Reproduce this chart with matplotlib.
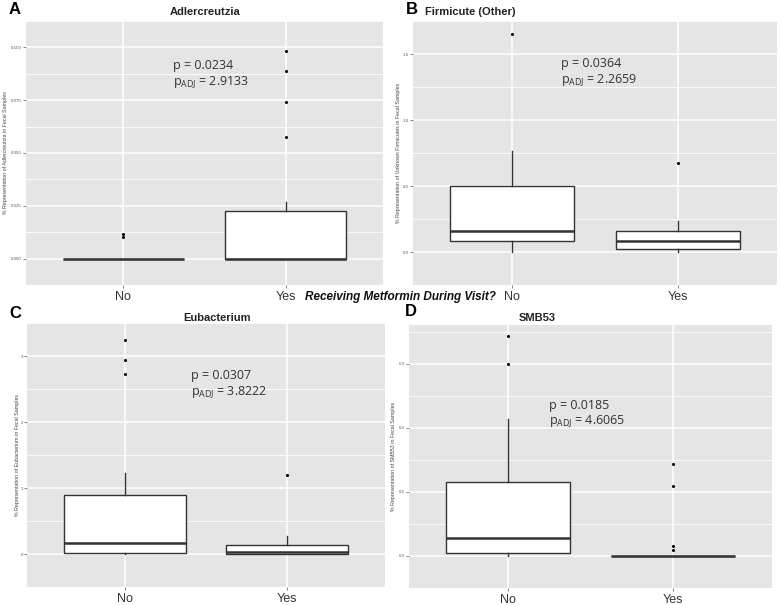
import numpy as np
import matplotlib.pyplot as plt

groups = ["No", "Yes"]

# box stats: [low whisker, Q1, median, Q3, high whisker]
adler_no = [0.0, 0.0, 0.0, 0.0, 0.0]
adler_yes = [0.0, 0.0, 0.0, 0.0226, 0.0267]
adler_out_no = [0.0117, 0.0100]
adler_out_yes = [0.0984, 0.0889, 0.0741, 0.0576]

firm_no = [0.0, 0.084, 0.162, 0.50, 0.767]
firm_yes = [0.0, 0.02, 0.082, 0.157, 0.233]
firm_out_no = [1.65]
firm_out_yes = [0.676]

eubac_no = [0.0, 0.01, 0.17, 0.90, 1.22]
eubac_yes = [0.0, 0.0, 0.03, 0.14, 0.27]
eubac_out_no = [3.235, 2.94, 2.73]
eubac_out_yes = [1.19]

smb_no = [0.0, 0.0053, 0.0276, 0.1147, 0.213]
smb_yes = [0.0, 0.0, 0.0, 0.0, 0.0]
smb_out_no = [0.343, 0.2996]
smb_out_yes = [0.143, 0.109, 0.0157, 0.010]

p_values = ["0.0234", "0.0364", "0.0307", "0.0185"]
p_adj = ["2.9133", "2.2659", "3.8222", "4.6065"]

W, H = 780, 605
fig = plt.figure(figsize=(7.8, 6.05), dpi=100)
plt.rcParams['font.family'] = ['Liberation Sans', 'DejaVu Sans']


def px(x, y):
    return x / W, 1 - y / H


def panel(box_px, st_no, st_yes, out_no, out_yes, yticks, ylabels, ylabel,
          ylabel_x, ptext_xy, pv, padj):
    l, t, r, b = box_px
    ax = fig.add_axes([l / W, 1 - b / H, (r - l) / W, (b - t) / H])
    stats = []
    for s, o in [(st_no, out_no), (st_yes, out_yes)]:
        stats.append(dict(whislo=s[0], q1=s[1], med=s[2], q3=s[3],
                          whishi=s[4], fliers=o))
    ax.bxp(stats, positions=[1, 2], widths=0.75, patch_artist=True,
           showcaps=False,
           boxprops=dict(facecolor='white', edgecolor='#333333', lw=1.0),
           medianprops=dict(color='#333333', lw=1.8, solid_capstyle='butt'),
           whiskerprops=dict(color='#333333', lw=1.0),
           flierprops=dict(marker='o', markersize=2.2, markerfacecolor='black',
                           markeredgecolor='none'))
    allv = st_no + st_yes + out_no + out_yes
    lo, hi = min(allv), max(allv)
    pad = 0.05 * (hi - lo)
    ax.set_ylim(lo - pad, hi + pad)
    ax.set_xlim(0.4, 2.6)
    ax.set_facecolor('#e5e5e5')
    for sp in ax.spines.values():
        sp.set_visible(False)
    ax.set_axisbelow(True)

    step = yticks[1] - yticks[0]
    minor = [v + step / 2 for v in [yticks[0] - step] + yticks]
    ax.set_yticks(yticks)
    ax.set_yticklabels(ylabels, fontsize=3.2, color='#555555')
    ax.set_yticks(minor, minor=True)
    ax.set_xticks([1, 2])
    ax.set_xticklabels(groups, fontsize=9, color='#333333')
    ax.tick_params(axis='y', length=2, width=0.5, color='#555555', pad=1)
    ax.tick_params(axis='x', length=2, width=0.5, color='#555555', pad=2)
    ax.tick_params(which='minor', length=0)
    ax.grid(True, which='major', color='white', lw=1.1)
    ax.grid(True, which='minor', axis='y', color='white', lw=0.6)

    fx, _ = px(ylabel_x, 0)
    fig.text(fx, 1 - ((t + b) / 2) / H, ylabel, rotation=90, fontsize=3.8,
             color='#444444', ha='center', va='center')

    x0, y0 = px(*ptext_xy)
    fig.text(x0, y0, "p = " + pv, fontsize=9, color='#333333',
             family='Open Sans', va='center')
    fig.text(x0, y0 - 16 / H, r"p$_{\mathregular{ADJ}}$ = " + padj,
             fontsize=9, color='#333333', family='Open Sans', va='center')
    return ax


panel((26, 21, 383, 285), adler_no, adler_yes, adler_out_no, adler_out_yes,
      [0.0, 0.025, 0.05, 0.075, 0.1], ["0.000", "0.025", "0.050", "0.075", "0.100"],
      "% Representation of Adlercreutzia in Fecal Samples", 6,
      (173, 66), p_values[0], p_adj[0])
panel((413, 21, 777, 285), firm_no, firm_yes, firm_out_no, firm_out_yes,
      [0.0, 0.5, 1.0, 1.5], ["0.0", "0.5", "1.0", "1.5"],
      "% Representation of Unknown Firmicutes in Fecal Samples", 399,
      (561, 64), p_values[1], p_adj[1])
panel((27, 323, 385, 587), eubac_no, eubac_yes, eubac_out_no, eubac_out_yes,
      [0, 1, 2, 3], ["0", "1", "2", "3"],
      "% Representation of Eubacterium in Fecal Samples", 18,
      (191, 376), p_values[2], p_adj[2])
panel((409, 325, 772, 588), smb_no, smb_yes, smb_out_no, smb_out_yes,
      [0.0, 0.1, 0.2, 0.3], ["0.0", "0.1", "0.2", "0.3"],
      "% Representation of SMB53 in Fecal Samples", 393,
      (549, 405), p_values[3], p_adj[3])

# panel titles and letters
titles = [("Adlercreutzia", 205, 12), ("Firmicute (Other)", 470, 12),
          ("Eubacterium", 217, 318), ("SMB53", 537, 318)]
for txt, x, y in titles:
    fig.text(*px(x, y), txt, fontsize=8, fontweight='bold', color='#222222',
             ha='center', va='center')

for txt, x, y in [("A", 15, 10), ("B", 412, 10), ("C", 15, 314), ("D", 411, 312)]:
    fig.text(*px(x, y), txt, fontsize=12, fontweight='bold', color='black',
             ha='center', va='center')

fig.text(*px(400, 297), "Receiving Metformin During Visit?", fontsize=8.5,
         fontweight='bold', fontstyle='italic', color='#111111',
         ha='center', va='center')

fig.savefig("out.png", dpi=100)
